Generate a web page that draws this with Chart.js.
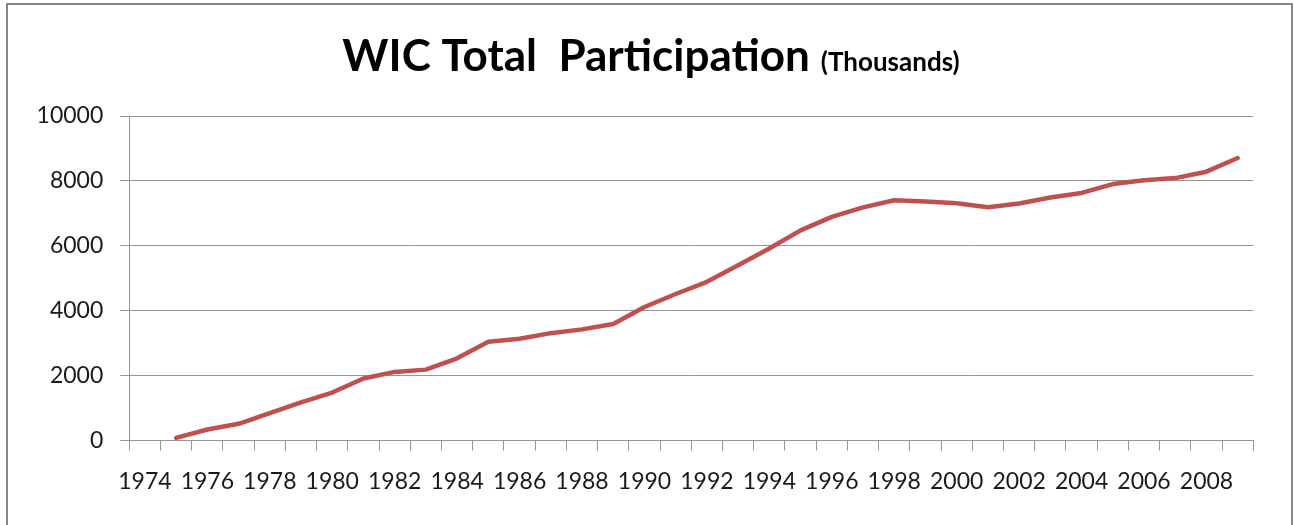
<!DOCTYPE html>
<html>
<head>
<meta charset="utf-8">
<script src="https://cdn.jsdelivr.net/npm/chart.js@4/dist/chart.umd.min.js"></script>
<style>
  html, body { margin: 0; padding: 0; background: #fff; }
  #wrap { width: 1294px; height: 525px; position: relative; }
</style>
</head>
<body>
<div id="wrap"><canvas id="c" width="1294" height="525"></canvas></div>
<script>
const years = [];
for (let y = 1974; y <= 2009; y++) years.push(String(y));
const participation = [null, 88, 344, 520, 848, 1181, 1483, 1914, 2119, 2189, 2537,
  3045, 3138, 3312, 3429, 3593, 4119, 4517, 4893, 5403, 5921, 6477, 6894, 7186, 7407,
  7367, 7311, 7192, 7306, 7491, 7631, 7904, 8023, 8088, 8285, 8705];
const titleMain = 'WIC Total  Participation';
const titleSub = '(Thousands)';
const yTicks = [0, 2000, 4000, 6000, 8000, 10000];

const FONT = 'Lato, "Open Sans", sans-serif';

const framePlugin = {
  id: 'frame',
  beforeDraw(chart) {
    const ctx = chart.ctx;
    ctx.save();
    ctx.fillStyle = '#fff';
    ctx.fillRect(0, 0, chart.width, chart.height);
    ctx.fillStyle = '#868686';
    ctx.fillRect(6, 3, 1287, 2);
    ctx.fillRect(6, 3, 2, 522);
    ctx.fillRect(1291, 3, 2, 522);
    ctx.restore();
  },
  afterDraw(chart) {
    const ctx = chart.ctx;
    ctx.save();
    ctx.fillStyle = '#000';
    ctx.textBaseline = 'alphabetic';
    const f1 = 'bold 44px ' + FONT;
    const f2 = 'bold 26px ' + FONT;
    ctx.font = f1;
    const w1 = ctx.measureText(titleMain).width;
    ctx.font = f2;
    const gap = 11;
    const w2 = ctx.measureText(titleSub).width;
    const total = w1 + gap + w2;
    const x0 = 651 - total / 2;
    const base = 71;
    ctx.font = f1;
    ctx.textAlign = 'left';
    ctx.fillText(titleMain, x0, base);
    ctx.font = f2;
    ctx.fillText(titleSub, x0 + w1 + gap, base);
    ctx.restore();
  }
};

new Chart(document.getElementById('c'), {
  type: 'line',
  data: {
    labels: years,
    datasets: [{
      data: participation,
      borderColor: '#C0504D',
      backgroundColor: '#C0504D',
      borderWidth: 4.5,
      pointRadius: 0,
      tension: 0,
      borderCapStyle: 'round',
      borderJoinStyle: 'round',
      spanGaps: false
    }]
  },
  options: {
    responsive: false,
    animation: false,
    events: [],
    layout: { padding: { top: 116, right: 40.7, left: 0, bottom: 0 } },
    plugins: { legend: { display: false }, title: { display: false }, tooltip: { enabled: false } },
    scales: {
      x: {
        type: 'category',
        offset: true,
        grid: { display: true, drawOnChartArea: false, offset: true, color: '#969696', tickLength: 10, lineWidth: 1 },
        border: { display: true, color: '#969696', width: 1 },
        ticks: {
          autoSkip: false,
          maxRotation: 0,
          minRotation: 0,
          padding: 17,
          color: '#1a1a1a',
          font: { family: FONT, size: 23 },
          callback: function(v, i) { return i % 2 === 0 ? this.getLabelForValue(v) : ''; }
        },
        afterFit(s) { s.height = 525 - 440.7; }
      },
      y: {
        min: 0,
        max: 10000,
        afterBuildTicks(s) { s.ticks = yTicks.map(v => ({ value: v })); },
        grid: { color: '#969696', tickLength: 9, lineWidth: 1 },
        border: { display: true, color: '#969696', width: 1 },
        ticks: {
          padding: 17,
          color: '#1a1a1a',
          font: { family: FONT, size: 23 },
          callback: v => String(v)
        },
        afterFit(s) { s.width = 129.3; }
      }
    }
  },
  plugins: [framePlugin]
});
</script>
</body>
</html>
